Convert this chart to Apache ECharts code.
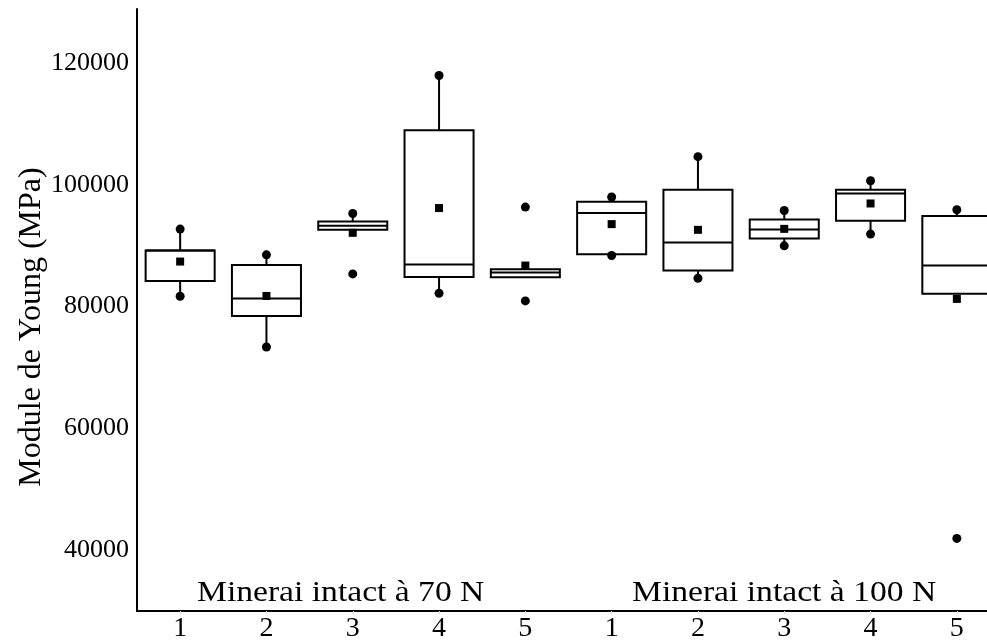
<!DOCTYPE html>
<html>
<head>
<meta charset="utf-8">
<script src="https://cdn.jsdelivr.net/npm/echarts@6/dist/echarts.min.js"></script>
<style>
html,body{margin:0;padding:0;background:#fff;}
#chart{width:987px;height:641px;}
</style>
</head>
<body>
<div id="chart"></div>
<script>
const categories = ['1','2','3','4','5','1','2','3','4','5'];
const groupLabels = ['Minerai intact à 70 N', 'Minerai intact à 100 N'];
const yTitle = 'Module de Young (MPa)';
const yTickLabels = [40000, 60000, 80000, 100000, 120000];
const whiskerLow  = [81710, 73370, 92630, 82200, 84840, 88620, 84670, 89990, 91920, 82140];
const q1Values    = [84230, 78470, 92630, 84890, 84840, 88620, 85930, 91190, 94110, 82140];
const medians     = [89220, 81320, 93280, 86910, 85600, 95370, 90540, 92670, 98600, 86750];
const q3Values    = [89220, 86860, 93990, 108970, 86160, 97230, 99210, 94320, 99210, 94880];
const whiskerHigh = [92740, 88510, 95310, 117980, 86160, 97230, 104640, 95800, 100690, 95920];
const minValues   = [81710, 73370, 85380, 82200, 80940, 88400, 84670, 89990, 91920, 41930];
const maxValues   = [92740, 88510, 95310, 117980, 96360, 98010, 104640, 95800, 100690, 95920];
const meanValues  = [87410, 81760, 92130, 96200, 86750, 93560, 92620, 92780, 96950, 81270];

const boxData = categories.map((c, i) => [i, whiskerLow[i], q1Values[i], medians[i], q3Values[i], whiskerHigh[i]]);
const dotData = [];
categories.forEach((c, i) => { dotData.push([i, minValues[i]]); dotData.push([i, maxValues[i]]); });
const meanData = categories.map((c, i) => [i, meanValues[i]]);

const chart = echarts.init(document.getElementById('chart'), null, {renderer: 'canvas'});
const serif = "'Liberation Serif', 'Times New Roman', serif";

function renderBox(params, api) {
  const x = api.value(0);
  const pWL = api.coord([x, api.value(1)]);
  const pQ1 = api.coord([x, api.value(2)]);
  const pMed = api.coord([x, api.value(3)]);
  const pQ3 = api.coord([x, api.value(4)]);
  const pWH = api.coord([x, api.value(5)]);
  const bw = api.size([1, 0])[0] * 0.8;
  const cx = pQ1[0];
  const st = {stroke: '#000', lineWidth: 2, fill: null};
  return {
    type: 'group',
    children: [
      {type: 'line', shape: {x1: cx, y1: pQ3[1], x2: cx, y2: pWH[1]}, style: st},
      {type: 'line', shape: {x1: cx, y1: pQ1[1], x2: cx, y2: pWL[1]}, style: st},
      {type: 'rect', shape: {x: cx - bw / 2, y: pQ3[1], width: bw, height: pQ1[1] - pQ3[1]},
        style: {stroke: '#000', lineWidth: 2, fill: '#fff'}},
      {type: 'line', shape: {x1: cx - bw / 2, y1: pMed[1], x2: cx + bw / 2, y2: pMed[1]}, style: st}
    ]
  };
}

chart.setOption({
  animation: false,
  backgroundColor: '#fff',
  grid: {left: 137, top: 9, width: 863, bottom: 30, containLabel: false, outerBoundsMode: 'none'},
  xAxis: {
    type: 'category',
    data: categories,
    axisLine: {show: true, lineStyle: {color: '#000', width: 2}},
    axisTick: {show: true, alignWithLabel: true, length: 3, lineStyle: {color: '#ddd', width: 1}},
    axisLabel: {color: '#000', fontFamily: serif, fontSize: 28, margin: 4},
    splitLine: {show: false}
  },
  yAxis: {
    type: 'value',
    min: 30000,
    max: 128900,
    interval: 10000,
    axisLine: {show: true, lineStyle: {color: '#000', width: 2}},
    axisTick: {show: false},
    splitLine: {show: false},
    axisLabel: {
      color: '#000', fontFamily: serif, fontSize: 26, margin: 8,
      formatter: v => yTickLabels.indexOf(v) >= 0 ? String(v) : ''
    }
  },
  graphic: [
    {type: 'text', x: 32, y: 327, rotation: Math.PI / 2,
      style: {text: yTitle, font: "32px 'Liberation Serif', serif", fill: '#000', textAlign: 'center', textVerticalAlign: 'middle'}},
    {type: 'text', left: 197, top: 578, style: {text: groupLabels[0], font: "30px 'Liberation Serif', serif", fill: '#000'}, scaleX: 1.12},
    {type: 'text', left: 632, top: 578, style: {text: groupLabels[1], font: "30px 'Liberation Serif', serif", fill: '#000'}, scaleX: 1.12}
  ],
  series: [
    {type: 'custom', renderItem: renderBox, data: boxData, z: 1, clip: false, encode: {x: 0, y: [1, 2, 3, 4, 5]}},
    {type: 'scatter', data: dotData, symbol: 'circle', symbolSize: 9, itemStyle: {color: '#000', opacity: 1}, z: 3},
    {type: 'scatter', data: meanData, symbol: 'rect', symbolSize: 8, itemStyle: {color: '#000', opacity: 1}, z: 3}
  ]
});
</script>
</body>
</html>
